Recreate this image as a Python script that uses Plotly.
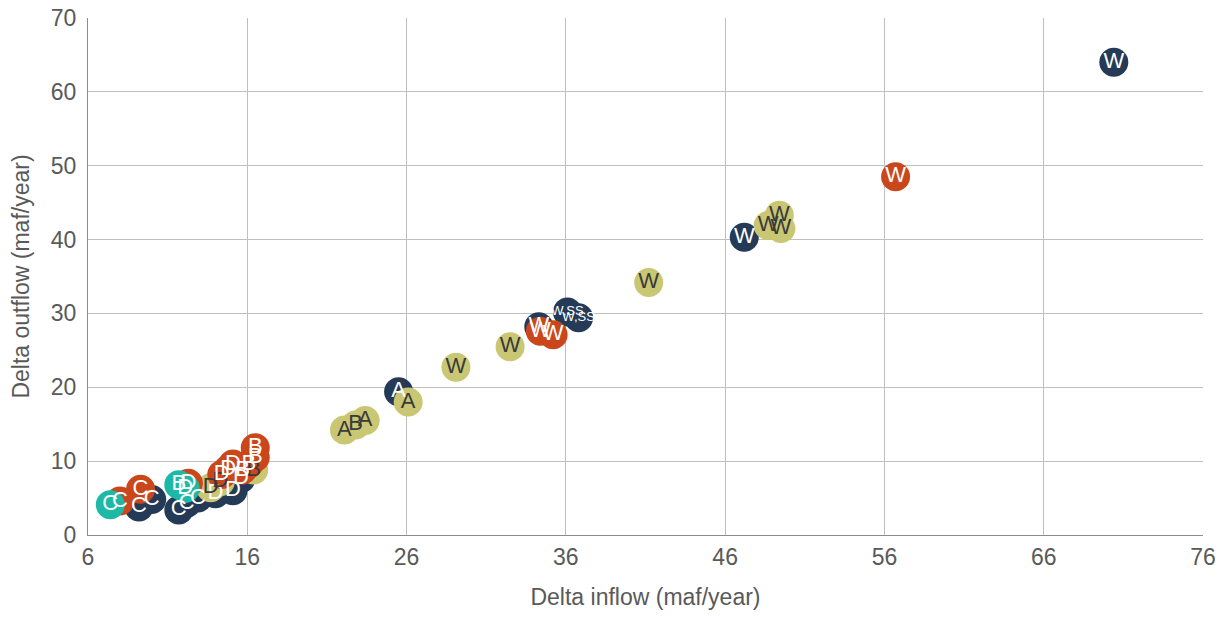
import plotly.graph_objects as go

# Navy series
navy_x = [70.4, 47.2, 34.3, 36.1, 36.8, 25.5, 15.6, 15.1, 14.0, 12.9, 12.2, 11.7, 10.0, 9.2]
navy_y = [64.0, 40.3, 28.2, 30.2, 29.4, 19.4, 7.6, 6.0, 5.6, 5.0, 4.3, 3.4, 4.8, 3.8]
navy_lbl = ["W", "W", "W", "W,SS", "W,SS", "A", "D", "D", "D", "C", "C", "C", "C", "C"]

# Olive series
olive_x = [49.4, 48.7, 49.5, 41.2, 32.5, 29.1, 26.1, 22.1, 22.8, 23.4, 16.4, 13.7, 14.3]
olive_y = [43.3, 41.9, 41.5, 34.2, 25.5, 22.7, 18.0, 14.2, 14.9, 15.5, 8.8, 6.4, 7.2]
olive_lbl = ["W", "W", "W", "W", "W", "W", "A", "A", "B", "A", "B", "D", "D"]

# Orange series
orange_x = [56.7, 34.4, 35.2, 16.5, 16.5, 16.1, 15.7, 15.1, 14.8, 14.4, 12.3, 9.3, 8.0]
orange_y = [48.5, 27.6, 27.1, 11.8, 10.5, 9.6, 8.8, 9.6, 8.9, 8.2, 7.0, 6.2, 4.6]
orange_lbl = ["W", "W", "W", "B", "B", "B", "B", "D", "D", "D", "D", "C", "C"]

# Teal series
teal_x = [7.4, 11.7, 12.1]
teal_y = [4.1, 6.8, 6.3]
teal_lbl = ["C", "B", "D"]

x_ticks = [6, 16, 26, 36, 46, 56, 66, 76]
y_ticks = [0, 10, 20, 30, 40, 50, 60, 70]

series = [
    (navy_x, navy_y, navy_lbl, "#243A56", "white"),
    (olive_x, olive_y, olive_lbl, "#C9C773", "#3A3A3A"),
    (orange_x, orange_y, orange_lbl, "#C9471B", "white"),
    (teal_x, teal_y, teal_lbl, "#1DB9A6", "white"),
]

fig = go.Figure()
for xs, ys, lb, col, tc in series:
    fig.add_trace(go.Scatter(x=xs, y=ys, mode="markers",
                             marker=dict(size=29, color=col, line=dict(width=0)),
                             showlegend=False, hoverinfo="skip"))
for xs, ys, lb, col, tc in series:
    sizes = [13 if len(t) > 1 else 22 for t in lb]
    fig.add_trace(go.Scatter(x=xs, y=ys, mode="text", text=lb,
                             textposition="middle center",
                             textfont=dict(size=sizes, color=tc, family="Liberation Sans, Arial"),
                             showlegend=False, hoverinfo="skip"))

axis_font = dict(family="Liberation Sans, Arial", size=23, color="#595959")
fig.update_layout(
    width=1223, height=620,
    margin=dict(l=80, r=28, t=10, b=93, autoexpand=False),
    plot_bgcolor="white", paper_bgcolor="white",
    xaxis=dict(range=[6, 76], tickvals=x_ticks, ticktext=[str(v) for v in x_ticks],
               showgrid=True, gridcolor="#BFBFBF", gridwidth=1,
               showline=True, linecolor="#8C8C8C", linewidth=1, zeroline=False,
               tickfont=axis_font, ticks="", ticklabelstandoff=1, automargin=False,
               ticklabeloverflow="allow",
               title=dict(text="Delta inflow (maf/year)", font=axis_font, standoff=20)),
    yaxis=dict(range=[0, 70], tickvals=y_ticks, ticktext=[str(v) for v in y_ticks],
               showgrid=True, gridcolor="#BFBFBF", gridwidth=1,
               showline=True, linecolor="#8C8C8C", linewidth=1, zeroline=False,
               tickfont=axis_font, ticks="", ticklabelstandoff=6, automargin=False,
               ticklabeloverflow="allow",
               title=dict(text="Delta outflow (maf/year)", font=axis_font, standoff=14)),
)
fig.write_html("out.html")
